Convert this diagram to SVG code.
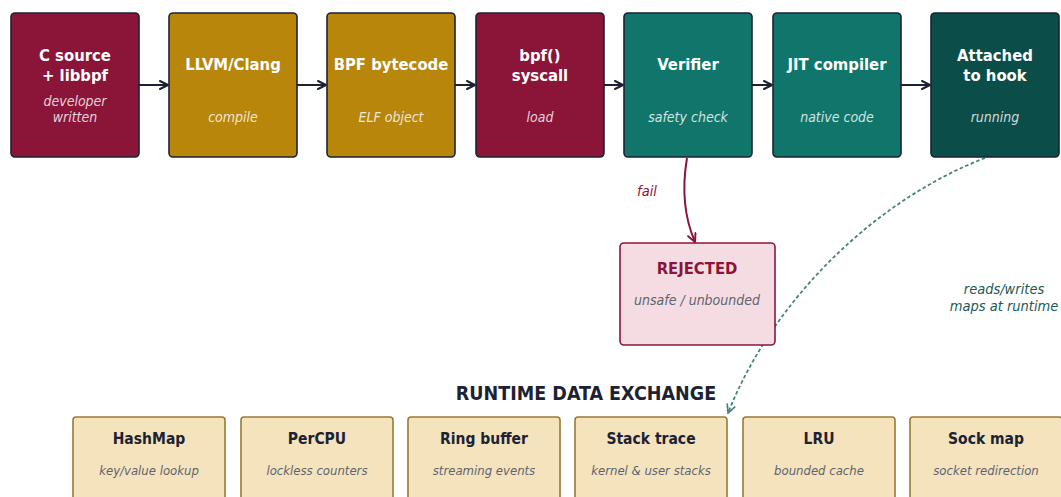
<svg xmlns="http://www.w3.org/2000/svg" width="1061" height="497" viewBox="0 0 1061 497">
  <style>
    text { font-family: "DejaVu Sans Condensed", "DejaVu Sans", sans-serif; text-anchor: middle; }
    .stage { stroke: #1c2233; stroke-width: 1.6; }
    .red { fill: #8b1538; }
    .gold { fill: #b8860b; }
    .teal { fill: #10766c; }
    .deep { fill: #0b4d48; }
    .title { font-weight: bold; font-size: 16.5px; fill: #ffffff; }
    .sub { font-style: italic; font-size: 14px; fill: #ffffff; fill-opacity: 0.82; }
    .flow { stroke: #1c2233; stroke-width: 2; fill: none; }
    .map { fill: #f5e3bd; stroke: #9a7a32; stroke-width: 1.6; }
    .maptitle { font-weight: bold; font-size: 15.5px; fill: #1c2233; }
    .mapsub { font-style: italic; font-size: 13px; fill: #5d6370; }
    .note { font-style: italic; font-size: 14.5px; fill: #1d5a52; }
  </style>
  <defs>
    <marker id="arrow" viewBox="0 0 10 10" refX="9" refY="5" markerWidth="10" markerHeight="10" markerUnits="userSpaceOnUse" orient="auto">
      <path d="M1,1 L9,5 L1,9" fill="none" stroke="#1c2233" stroke-width="2" stroke-linecap="round" stroke-linejoin="round"/>
    </marker>
    <marker id="arrow-red" viewBox="0 0 10 10" refX="9" refY="5" markerWidth="10" markerHeight="10" markerUnits="userSpaceOnUse" orient="auto">
      <path d="M1,1 L9,5 L1,9" fill="none" stroke="#8b1538" stroke-width="2" stroke-linecap="round" stroke-linejoin="round"/>
    </marker>
    <marker id="arrow-teal" viewBox="0 0 10 10" refX="9" refY="5" markerWidth="10" markerHeight="10" markerUnits="userSpaceOnUse" orient="auto">
      <path d="M1,1 L9,5 L1,9" fill="none" stroke="#44827a" stroke-width="1.8" stroke-dasharray="2 1.5" stroke-linecap="round"/>
    </marker>
  </defs>

  <!-- connectors -->
  <g id="connectors">
    <line class="flow" x1="139" y1="85" x2="168" y2="85" marker-end="url(#arrow)"/>
    <line class="flow" x1="297" y1="85" x2="326" y2="85" marker-end="url(#arrow)"/>
    <line class="flow" x1="455" y1="85" x2="475" y2="85" marker-end="url(#arrow)"/>
    <line class="flow" x1="604" y1="85" x2="623" y2="85" marker-end="url(#arrow)"/>
    <line class="flow" x1="752" y1="85" x2="772" y2="85" marker-end="url(#arrow)"/>
    <line class="flow" x1="901" y1="85" x2="930" y2="85" marker-end="url(#arrow)"/>
    <path d="M687,158 Q679,205 695,242" fill="none" stroke="#8b1538" stroke-width="2" marker-end="url(#arrow-red)"/>
    <text x="647" y="196" style="font-style:italic;font-size:14.5px;fill:#8b1538">fail</text>
    <path d="M985,158 C880,198 775,295 728,413" fill="none" stroke="#44827a" stroke-width="1.8" stroke-dasharray="3.5 2.5" marker-end="url(#arrow-teal)"/>
    <text class="note" x="1004" y="294">reads/writes</text>
    <text class="note" x="1004" y="311">maps at runtime</text>
  </g>

  <!-- pipeline stages -->
  <g id="c-source">
    <rect class="stage red" x="11" y="13" width="128" height="144" rx="4"/>
    <text class="title" x="75" y="61">C source</text>
    <text class="title" x="75" y="81">+ libbpf</text>
    <text class="sub" x="75" y="106">developer</text>
    <text class="sub" x="75" y="122">written</text>
  </g>
  <g id="llvm-clang">
    <rect class="stage gold" x="169" y="13" width="128" height="144" rx="4"/>
    <text class="title" x="233" y="70">LLVM/Clang</text>
    <text class="sub" x="233" y="122">compile</text>
  </g>
  <g id="bpf-bytecode">
    <rect class="stage gold" x="327" y="13" width="128" height="144" rx="4"/>
    <text class="title" x="391" y="70">BPF bytecode</text>
    <text class="sub" x="391" y="122">ELF object</text>
  </g>
  <g id="bpf-syscall">
    <rect class="stage red" x="476" y="13" width="128" height="144" rx="4"/>
    <text class="title" x="540" y="61">bpf()</text>
    <text class="title" x="540" y="81">syscall</text>
    <text class="sub" x="540" y="122">load</text>
  </g>
  <g id="verifier">
    <rect class="stage teal" x="624" y="13" width="128" height="144" rx="4"/>
    <text class="title" x="688" y="70">Verifier</text>
    <text class="sub" x="688" y="122">safety check</text>
  </g>
  <g id="jit-compiler">
    <rect class="stage teal" x="773" y="13" width="128" height="144" rx="4"/>
    <text class="title" x="837" y="70">JIT compiler</text>
    <text class="sub" x="837" y="122">native code</text>
  </g>
  <g id="attached">
    <rect class="stage deep" x="931" y="13" width="128" height="144" rx="4"/>
    <text class="title" x="995" y="61">Attached</text>
    <text class="title" x="995" y="81">to hook</text>
    <text class="sub" x="995" y="122">running</text>
  </g>

  <g id="rejected">
    <rect x="620" y="243" width="155" height="102" rx="4" fill="#f5dce2" stroke="#8b1538" stroke-width="1.6"/>
    <text x="697" y="274" style="font-weight:bold;font-size:16.5px;fill:#8b1538">REJECTED</text>
    <text x="697" y="305" style="font-style:italic;font-size:14px;fill:#5d6370">unsafe / unbounded</text>
  </g>

  <!-- runtime maps -->
  <text x="586" y="400" style="font-weight:bold;font-size:19.5px;fill:#1c2233">RUNTIME DATA EXCHANGE</text>
  <g id="hashmap">
    <rect class="map" x="73" y="417" width="152" height="100" rx="3"/>
    <text class="maptitle" x="149" y="444">HashMap</text>
    <text class="mapsub" x="149" y="475">key/value lookup</text>
  </g>
  <g id="percpu">
    <rect class="map" x="241" y="417" width="152" height="100" rx="3"/>
    <text class="maptitle" x="317" y="444">PerCPU</text>
    <text class="mapsub" x="317" y="475">lockless counters</text>
  </g>
  <g id="ring-buffer">
    <rect class="map" x="408" y="417" width="152" height="100" rx="3"/>
    <text class="maptitle" x="484" y="444">Ring buffer</text>
    <text class="mapsub" x="484" y="475">streaming events</text>
  </g>
  <g id="stack-trace">
    <rect class="map" x="575" y="417" width="152" height="100" rx="3"/>
    <text class="maptitle" x="651" y="444">Stack trace</text>
    <text class="mapsub" x="651" y="475">kernel &amp; user stacks</text>
  </g>
  <g id="lru">
    <rect class="map" x="743" y="417" width="152" height="100" rx="3"/>
    <text class="maptitle" x="819" y="444">LRU</text>
    <text class="mapsub" x="819" y="475">bounded cache</text>
  </g>
  <g id="sock-map">
    <rect class="map" x="910" y="417" width="152" height="100" rx="3"/>
    <text class="maptitle" x="986" y="444">Sock map</text>
    <text class="mapsub" x="986" y="475">socket redirection</text>
  </g>
</svg>
